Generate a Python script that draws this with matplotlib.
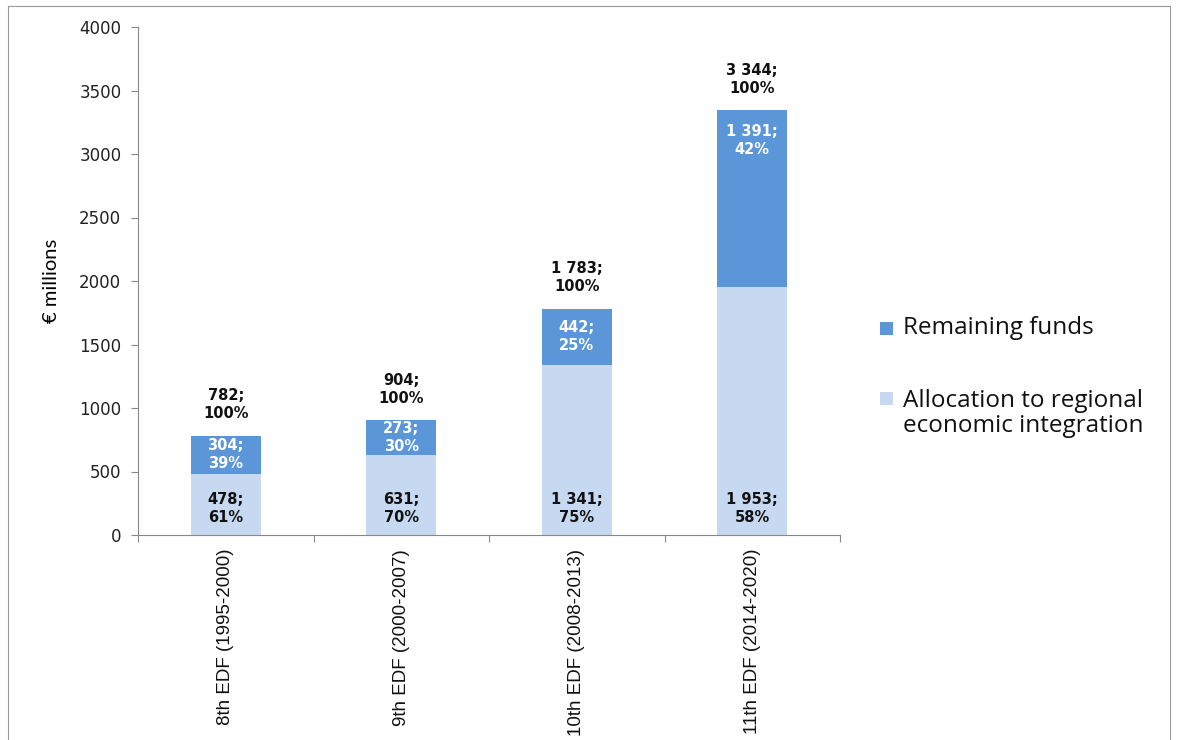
import matplotlib
matplotlib.use("Agg")
import matplotlib.pyplot as plt
from matplotlib.patches import Rectangle
from matplotlib.lines import Line2D
import numpy as np

categories = ["8th EDF (1995-2000)", "9th EDF (2000-2007)", "10th EDF (2008-2013)", "11th EDF (2014-2020)"]
allocation = [478, 631, 1341, 1953]
remaining = [304, 273, 442, 1391]
totals = [782, 904, 1783, 3344]
alloc_pct = [61, 70, 75, 58]
remain_pct = [39, 30, 25, 42]
yticks = [0, 500, 1000, 1500, 2000, 2500, 3000, 3500, 4000]

c_dark = "#5B97D8"
c_light = "#C6D9F1"

def fmt(v):
    return f"{v:,}".replace(",", " ")

W, H = 1179, 740
fig = plt.figure(figsize=(W / 100, H / 100), dpi=100)
ax = fig.add_axes([138 / W, 1 - 535 / H, (840 - 138) / W, (535 - 27) / H])

x = np.arange(len(categories))
ax.bar(x, allocation, width=0.4, color=c_light, zorder=2)
ax.bar(x, remaining, width=0.4, bottom=allocation, color=c_dark, zorder=2)

lab_kw = dict(ha="center", fontsize=10.5, fontweight="bold", family="DejaVu Sans",
              linespacing=1.25, textcoords="offset points")
max_drop = 235  # label never sits further than this below the segment top (data units)
for i in range(len(categories)):
    ax.annotate(f"{fmt(allocation[i])};\n{alloc_pct[i]}%", (x[i], 0), xytext=(0, 7.5),
                va="bottom", color="#111111", **lab_kw)
    mid = allocation[i] + remaining[i] / 2
    ly = max(mid, totals[i] - max_drop)
    ax.annotate(f"{fmt(remaining[i])};\n{remain_pct[i]}%", (x[i], ly), xytext=(0, 0),
                va="center", color="white", **lab_kw)
    ax.annotate(f"{fmt(totals[i])};\n100%", (x[i], totals[i]), xytext=(0, 10.5),
                va="bottom", color="#111111", **lab_kw)

ax.set_xlim(-0.5, len(categories) - 0.5)
ax.set_ylim(0, 4000)
ax.set_yticks(yticks)
ax.set_yticklabels([str(v) for v in yticks], fontsize=12, family="DejaVu Sans", color="#222222")
ax.set_xticks(x)
ax.set_xticklabels(categories, rotation=90, fontsize=13.5, family="Liberation Sans", color="#111111")
ax.set_xticks(np.arange(-0.5, len(categories), 1.0), minor=True)
ax.tick_params(axis="x", which="major", length=0, pad=10)
ax.tick_params(axis="x", which="minor", length=5, color="#888888", width=0.8)
ax.tick_params(axis="y", length=5, color="#888888", width=0.8, pad=7)
for s in ["top", "right"]:
    ax.spines[s].set_visible(False)
for s in ["left", "bottom"]:
    ax.spines[s].set_color("#888888")
    ax.spines[s].set_linewidth(0.8)
ax.set_ylabel("€ millions", fontsize=14.5, family="Lato")
ax.yaxis.set_label_coords((60 - 138) / (840 - 138), 0.5)

# legend (manual layout)
def fx(px):
    return px / W
def fy(py):
    return 1 - py / H

fig.add_artist(Rectangle((fx(880), fy(335)), 13 / W, 13 / H, transform=fig.transFigure,
                         facecolor=c_dark, edgecolor="none"))
fig.text(fx(903), fy(328), "Remaining funds", fontsize=17.5, family="Open Sans", va="center", ha="left", color="#111111")
fig.add_artist(Rectangle((fx(880), fy(405)), 13 / W, 13 / H, transform=fig.transFigure,
                         facecolor=c_light, edgecolor="none"))
fig.text(fx(903), fy(413.5), "Allocation to regional\neconomic integration", fontsize=17.5, family="Open Sans",
         va="center", ha="left", linespacing=1.05, color="#111111")

# outer frame
for xs, ys in [([8, 8], [6, 745]), ([8, 1170], [6, 6]), ([1170, 1170], [6, 745])]:
    fig.add_artist(Line2D([fx(v) for v in xs], [fy(v) for v in ys], transform=fig.transFigure,
                          color="#999999", linewidth=0.8))

fig.savefig("out.png", dpi=100)
